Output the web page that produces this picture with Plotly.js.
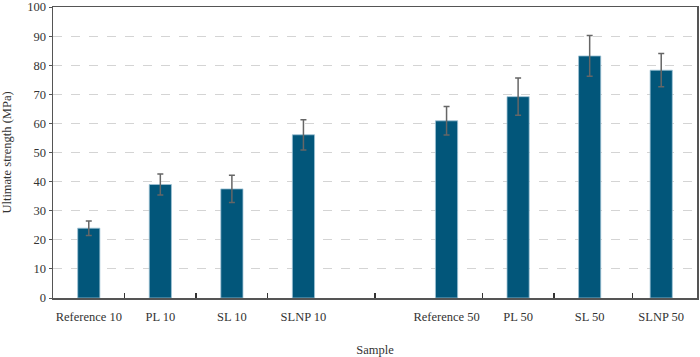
<!DOCTYPE html>
<html>
<head>
<meta charset="utf-8">
<script src="https://cdn.plot.ly/plotly-3.0.1.min.js"></script>
<style>html,body{margin:0;padding:0;background:#fff;}#chart{width:700px;height:357px;}</style>
</head>
<body>
<div id="chart"></div>
<script>
const categories = ["Reference 10", "PL 10", "SL 10", "SLNP 10", "Reference 50", "PL 50", "SL 50", "SLNP 50"];
const positions = [0, 1, 2, 3, 5, 6, 7, 8];
const strength = [24.0, 39.0, 37.5, 56.1, 60.9, 69.2, 83.2, 78.3];
const errors = [2.5, 3.6, 4.7, 5.2, 4.9, 6.4, 7.0, 5.7];
const separatorTicks = [0.5, 1.5, 2.5, 4, 5.5, 6.5, 7.6];
const yTicks = [0, 10, 20, 30, 40, 50, 60, 70, 80, 90, 100];

const font = {family: '"Liberation Serif", "Times New Roman", serif', size: 12.5, color: '#333'};

const trace = {
  type: 'bar',
  x: positions,
  y: strength,
  width: 0.31,
  marker: {color: '#02567a', line: {color: '#9fc3d6', width: 0.8}},
  error_y: {type: 'data', array: errors, visible: true, color: '#666', thickness: 1.5, width: 3},
  hoverinfo: 'skip',
  xaxis: 'x', yaxis: 'y'
};
const dummy = {type: 'scatter', x: [], y: [], xaxis: 'x2', yaxis: 'y', showlegend: false};

const layout = {
  width: 700, height: 357,
  margin: {l: 53, r: 3, t: 7, b: 59},
  paper_bgcolor: '#fff', plot_bgcolor: '#fff',
  font: font,
  showlegend: false,
  bargap: 0,
  xaxis: {
    range: [-0.5, 8.5],
    tickvals: positions, ticktext: categories,
    ticks: 'outside', ticklen: 6, tickcolor: 'rgba(0,0,0,0)',
    showgrid: false, zeroline: false,
    showline: true, linecolor: '#555', linewidth: 1.5, mirror: true,
    tickfont: font,
    title: {text: 'Sample', font: font, standoff: 22}
  },
  xaxis2: {
    overlaying: 'x', range: [-0.5, 8.5], side: 'bottom',
    tickvals: separatorTicks, ticktext: separatorTicks.map(() => ''),
    ticks: 'inside', ticklen: 5, tickwidth: 1.5, tickcolor: '#333',
    showgrid: false, zeroline: false, showline: false
  },
  yaxis: {
    range: [0, 100.02],
    tickvals: yTicks,
    ticks: 'outside', ticklen: 3, tickcolor: '#555',
    showgrid: true, gridcolor: '#d4d4d4', griddash: 'dash', gridwidth: 1,
    zeroline: false,
    showline: true, linecolor: '#555', linewidth: 1.5, mirror: true,
    tickfont: font,
    title: {text: 'Ultimate strength (MPa)', font: font, standoff: 16}
  }
};

Plotly.newPlot('chart', [trace, dummy], layout, {staticPlot: true, displayModeBar: false});
</script>
</body>
</html>
